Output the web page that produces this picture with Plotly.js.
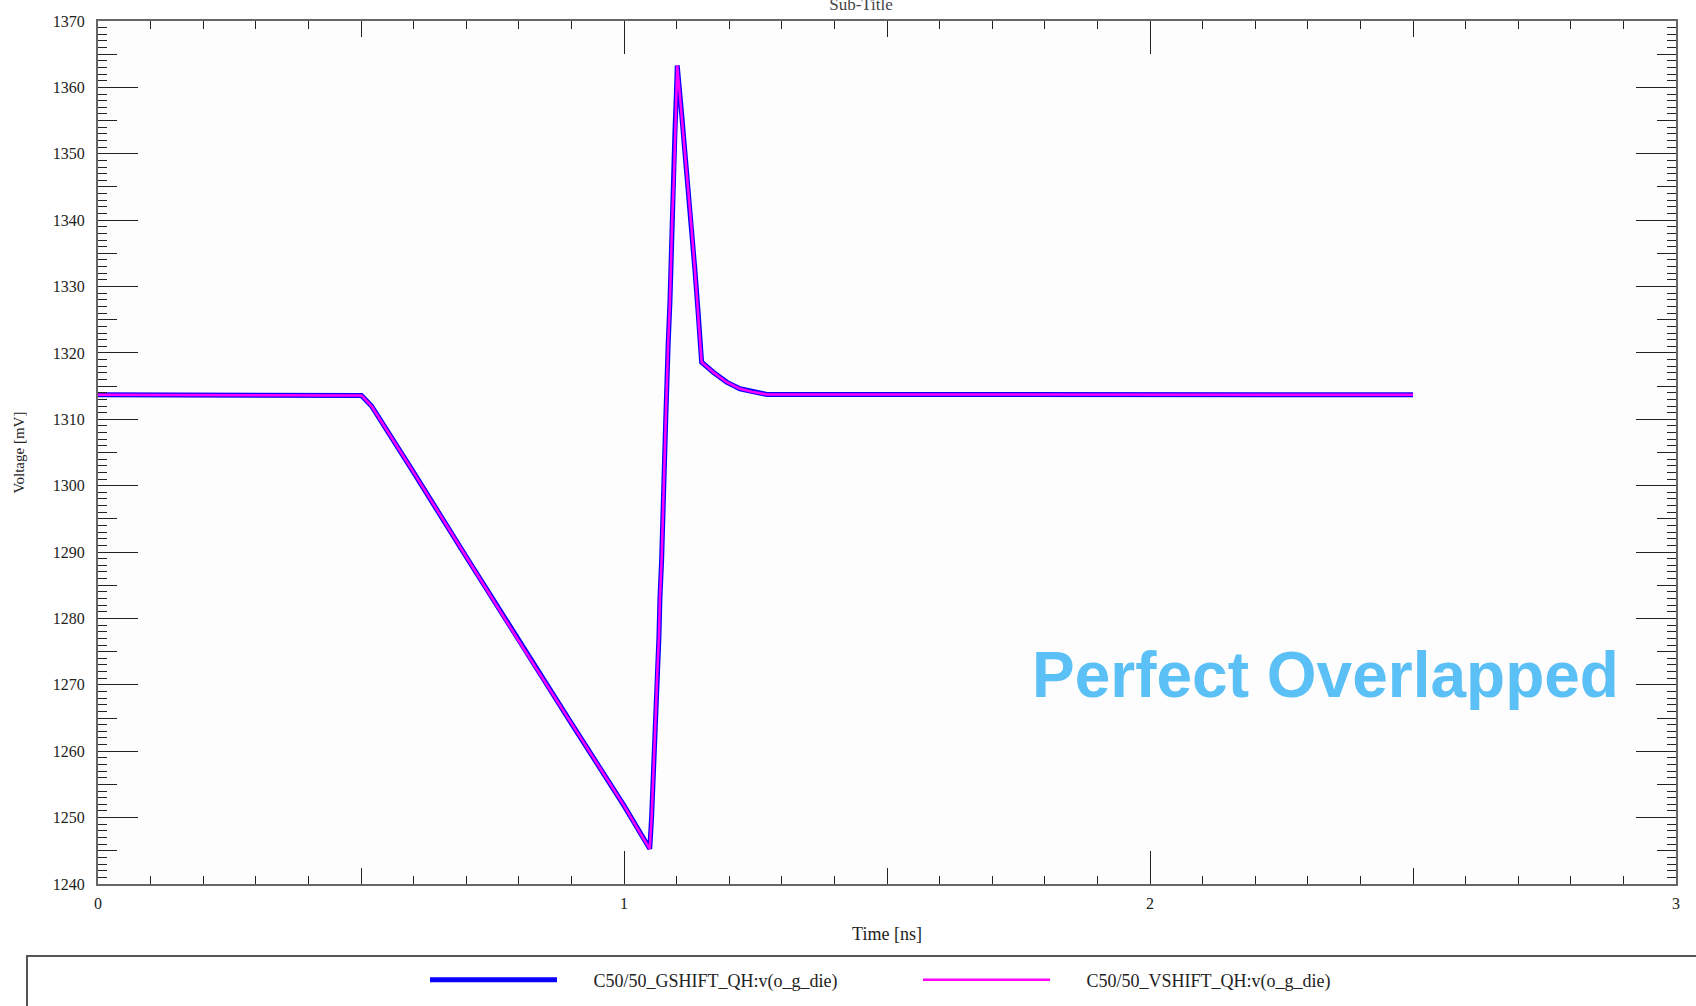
<!DOCTYPE html>
<html><head><meta charset="utf-8">
<script src="https://cdn.plot.ly/plotly-3.0.1.min.js"></script>
<style>html,body{margin:0;padding:0;background:#fff}</style>
</head><body><div id="chart" style="width:1696px;height:1006px"></div>
<script>
// Time axis (ns) and voltages (mV)
const timeNs = [0, 0.5009, 0.52, 0.55, 0.6, 0.7, 0.8, 0.9, 1.0, 1.0365, 1.0490, 1.0525, 1.0556, 1.0588, 1.0607, 1.0632, 1.0664, 1.0683, 1.0715, 1.0791, 1.081, 1.084, 1.0873, 1.0892, 1.0917, 1.095, 1.0968, 1.1000, 1.1012, 1.1096, 1.1191, 1.1273, 1.1349, 1.1412, 1.1476, 1.1697, 1.1952, 1.2205, 1.2458, 1.2713, 2.5];
const gshiftMv = [1313.7, 1313.6, 1312.0, 1308.3, 1302.0, 1289.3, 1276.6, 1264.2, 1251.8, 1246.9, 1245.3, 1250.1, 1255.4, 1260.9, 1266.2, 1271.7, 1277.2, 1283.0, 1288.75, 1309.3, 1315.4, 1321.4, 1327.6, 1333.9, 1340.3, 1346.6, 1353.2, 1360.0, 1363.3, 1356.0, 1347.6, 1339.8, 1332.4, 1325.8, 1318.6, 1317.1, 1315.6, 1314.6, 1314.1, 1313.75, 1313.7];
// VSHIFT overlaps GSHIFT exactly
const vshiftMv = [1313.7, 1313.6, 1312.0, 1308.3, 1302.0, 1289.3, 1276.6, 1264.2, 1251.8, 1246.9, 1245.3, 1250.1, 1255.4, 1260.9, 1266.2, 1271.7, 1277.2, 1283.0, 1288.75, 1309.3, 1315.4, 1321.4, 1327.6, 1333.9, 1340.3, 1346.6, 1353.2, 1360.0, 1363.3, 1356.0, 1347.6, 1339.8, 1332.4, 1325.8, 1318.6, 1317.1, 1315.6, 1314.6, 1314.1, 1313.75, 1313.7];
const seriesNames = ['C50/50_GSHIFT_QH:v(o_g_die)', 'C50/50_VSHIFT_QH:v(o_g_die)'];
const xRange = [0, 3];
const yRange = [1240, 1370];
const pad = '\u00A0\u00A0\u00A0\u00A0\u00A0\u00A0\u00A0';

const serif = 'Liberation Serif, Times New Roman, serif';
const tickC = '#222';

const traces = [
  {x: timeNs, y: gshiftMv, name: pad + seriesNames[0], type: 'scatter', mode: 'lines',
   line: {color: '#0a00ff', width: 5}, xaxis: 'x', yaxis: 'y'},
  {x: timeNs, y: vshiftMv, name: pad + seriesNames[1], type: 'scatter', mode: 'lines',
   line: {color: '#ff00ff', width: 2.5}, xaxis: 'x2', yaxis: 'y2'}
];

const baseAx = {showgrid: false, zeroline: false, fixedrange: true};

const layout = {
  width: 1696, height: 1006,
  paper_bgcolor: '#ffffff', plot_bgcolor: '#fdfdfd',
  margin: {l: 98, r: 20, t: 21, b: 122},
  title: {text: 'Sub-Title', x: 861/1696, xref: 'container', xanchor: 'center',
          y: 0.996, yref: 'container', yanchor: 'middle',
          font: {family: serif, size: 17, color: '#444'}},
  xaxis: Object.assign({}, baseAx, {
    range: xRange, tickmode: 'linear', tick0: 0, dtick: 1,
    ticks: 'inside', ticklen: 33, tickwidth: 1, tickcolor: tickC,
    minor: {tickmode: 'linear', tick0: 0, dtick: 0.1, ticks: 'inside', ticklen: 8, tickwidth: 1, tickcolor: tickC},
    showline: true, linecolor: '#666', linewidth: 2, mirror: 'ticks',
    tickfont: {family: serif, size: 16, color: tickC}, ticklabelstandoff: 4,
    title: {text: 'Time [ns]', font: {family: serif, size: 18, color: tickC}, standoff: 16}
  }),
  yaxis: Object.assign({}, baseAx, {
    range: yRange, tickmode: 'linear', tick0: 1240, dtick: 10,
    ticks: 'inside', ticklen: 40, tickwidth: 1, tickcolor: tickC,
    minor: {tickmode: 'linear', tick0: 1240, dtick: 1, ticks: 'inside', ticklen: 9, tickwidth: 1, tickcolor: tickC},
    showline: true, linecolor: '#666', linewidth: 2, mirror: 'ticks',
    tickfont: {family: serif, size: 16, color: tickC}, ticklabelstandoff: 8,
    title: {text: 'Voltage [mV]', font: {family: serif, size: 15, color: tickC}, standoff: 25}
  }),
  xaxis2: Object.assign({}, baseAx, {
    overlaying: 'x', anchor: 'y2', range: xRange, tickmode: 'linear', tick0: 0, dtick: 0.5,
    ticks: 'inside', ticklen: 16, tickwidth: 1, tickcolor: tickC,
    showticklabels: false, showline: false, mirror: 'ticks'
  }),
  yaxis2: Object.assign({}, baseAx, {
    overlaying: 'y', anchor: 'x2', side: 'left', range: yRange, tickmode: 'linear', tick0: 1240, dtick: 5,
    ticks: 'inside', ticklen: 19, tickwidth: 1, tickcolor: tickC,
    showticklabels: false, showline: false, mirror: 'ticks'
  }),
  showlegend: true,
  legend: {orientation: 'h', xref: 'container', x: 425/1696, xanchor: 'left',
           yref: 'container', y: 26/1006, yanchor: 'middle',
           bgcolor: 'rgba(0,0,0,0)', borderwidth: 0,
           itemwidth: 127, entrywidth: 351, entrywidthmode: 'pixels',
           font: {family: serif, size: 18, color: tickC}},
  shapes: [
    {type: 'rect', xref: 'paper', yref: 'paper', x0: -0.045, x1: 1.06, y0: -0.0834, y1: -0.3,
     line: {color: '#555', width: 2}, fillcolor: 'rgba(0,0,0,0)', layer: 'above'}
  ],
  annotations: [
    {text: '<b>Perfect Overlapped</b>', xref: 'paper', yref: 'paper', x: 0.778, y: 0.242,
     xanchor: 'center', yanchor: 'middle', showarrow: false,
     font: {family: 'Liberation Sans, Arial, sans-serif', size: 64, color: '#5bc0f5'}}
  ]
};

Plotly.newPlot('chart', traces, layout, {staticPlot: true, displayModeBar: false});
</script>
</body></html>
